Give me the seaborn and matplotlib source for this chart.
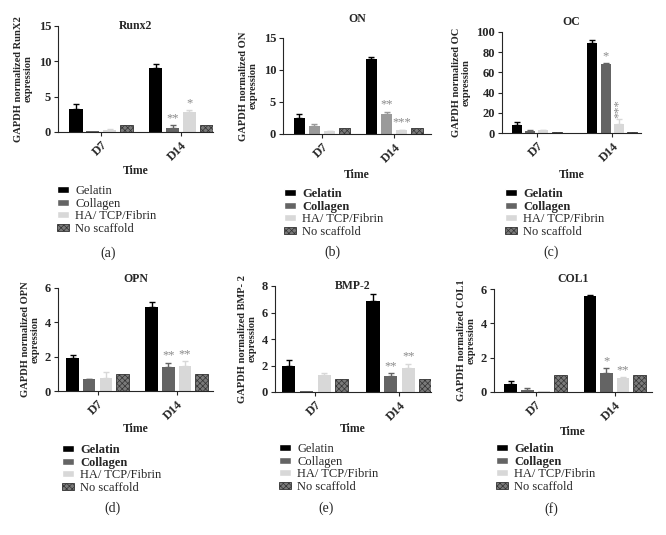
import matplotlib
matplotlib.use("Agg")
import matplotlib.pyplot as plt
from matplotlib.patches import Patch
import seaborn as sns
import pandas as pd

days = ["D7", "D14"]
groups = ["Gelatin", "Collagen", "HA/ TCP/Fibrin", "No scaffold"]

# values per group (Gelatin, Collagen, HA/TCP/Fibrin, No scaffold)
runx2_d7 = [3.2, 0.1, 0.3, 1.0]
runx2_d14 = [9.0, 0.6, 2.8, 1.0]
runx2_err_d7 = [0.8, 0.0, 0.1, 0.0]
runx2_err_d14 = [0.6, 0.4, 0.3, 0.0]
runx2_stars = ["", "**", "*", ""]

on_d7 = [2.5, 1.3, 0.4, 1.0]
on_d14 = [11.7, 3.2, 0.6, 1.0]
on_err_d7 = [0.7, 0.3, 0.1, 0.0]
on_err_d14 = [0.3, 0.3, 0.1, 0.0]
on_stars = ["", "**", "***", ""]

oc_d7 = [8.2, 2.0, 2.5, 1.0]
oc_d14 = [89.0, 68.0, 9.0, 1.0]
oc_err_d7 = [3.0, 1.0, 0.6, 0.0]
oc_err_d14 = [3.0, 1.0, 5.0, 0.0]
oc_stars = ["", "*", "***", ""]

opn_d7 = [1.9, 0.68, 0.78, 1.0]
opn_d14 = [4.92, 1.4, 1.45, 1.0]
opn_err_d7 = [0.2, 0.04, 0.35, 0.0]
opn_err_d14 = [0.25, 0.25, 0.28, 0.0]
opn_stars = ["", "**", "**", ""]

bmp2_d7 = [2.0, 0.05, 1.25, 1.0]
bmp2_d14 = [6.9, 1.2, 1.8, 1.0]
bmp2_err_d7 = [0.45, 0.0, 0.15, 0.0]
bmp2_err_d14 = [0.5, 0.2, 0.35, 0.0]
bmp2_stars = ["", "**", "**", ""]

col1_d7 = [0.45, 0.12, 0.05, 1.0]
col1_d14 = [5.62, 1.1, 0.8, 1.0]
col1_err_d7 = [0.2, 0.1, 0.0, 0.0]
col1_err_d14 = [0.05, 0.28, 0.05, 0.0]
col1_stars = ["", "*", "**", ""]

titles = ["Runx2", "ON", "OC", "OPN", "BMP-2", "COL1"]
ylabels = ["GAPDH normalized RunX2\nexpression", "GAPDH normalized ON\nexpression",
           "GAPDH normalized OC\nexpression", "GAPDH normalized OPN\nexpression",
           "GAPDH normalized BMP- 2\nexpression", "GAPDH normalized COL1\nexpression"]
yticks = [[0, 5, 10, 15], [0, 5, 10, 15], [0, 20, 40, 60, 80, 100],
          [0, 2, 4, 6], [0, 2, 4, 6, 8], [0, 2, 4, 6]]
captions = ["(a)", "(b)", "(c)", "(d)", "(e)", "(f)"]

means = [(runx2_d7, runx2_d14), (on_d7, on_d14), (oc_d7, oc_d14),
         (opn_d7, opn_d14), (bmp2_d7, bmp2_d14), (col1_d7, col1_d14)]
errs = [(runx2_err_d7, runx2_err_d14), (on_err_d7, on_err_d14), (oc_err_d7, oc_err_d14),
        (opn_err_d7, opn_err_d14), (bmp2_err_d7, bmp2_err_d14), (col1_err_d7, col1_err_d14)]
stars = [runx2_stars, on_stars, oc_stars, opn_stars, bmp2_stars, col1_stars]

# layout in pixels: axes box (left, right, top, bottom), xlim, title y, Time y,
# legend (x, y), caption (x, y), bold legend, bar width, gap
W, H = 666, 535
layout = [
    dict(box=(58, 213, 26, 132), xlim=(-0.54, 1.40), ty=26, timey=165, leg=(57, 185), cap=(108, 253), bold=False, width=0.84, gap=0.22),
    dict(box=(283, 431, 38, 134), xlim=(-0.54, 1.51), ty=19, timey=169, leg=(284, 188), cap=(332, 252), bold=True, width=0.84, gap=0.25),
    dict(box=(502, 641, 32, 133), xlim=(-0.46, 1.38), ty=22, timey=169, leg=(505, 188), cap=(551, 252), bold=True, width=0.7, gap=0.24),
    dict(box=(58, 213, 288, 391), xlim=(-0.50, 1.46), ty=279, timey=423, leg=(62, 444), cap=(112, 508), bold=True, width=0.84, gap=0.25),
    dict(box=(275, 431, 286, 392), xlim=(-0.48, 1.375), ty=286, timey=423, leg=(279, 443), cap=(326, 508), bold=False, width=0.84, gap=0.25),
    dict(box=(494, 652, 289, 392), xlim=(-0.525, 1.47), ty=279, timey=426, leg=(496, 443), cap=(551, 509), bold=True, width=0.84, gap=0.25),
]

sns.set_style("ticks")
plt.rcParams["font.family"] = ["Liberation Serif", "DejaVu Serif"]
plt.rcParams["hatch.linewidth"] = 0.5

fig = plt.figure(figsize=(W / 100, H / 100), dpi=100)

for i in range(6):
    lay = layout[i]
    left, right, top, bottom = lay["box"]
    ax = fig.add_axes([left / W, 1 - bottom / H, (right - left) / W, (bottom - top) / H])

    collagen_color = "#9a9a9a" if i == 1 else "#646464"
    colors = ["#000000", collagen_color, "#d8d8d8", "#7a7a7a"]

    rows = []
    for d, day in enumerate(days):
        for g, grp in enumerate(groups):
            rows.append({"Time": day, "Group": grp, "value": means[i][d][g], "err": errs[i][d][g]})
    df = pd.DataFrame(rows)

    sns.barplot(data=df, x="Time", y="value", hue="Group", order=days, hue_order=groups,
                palette=colors, errorbar=None, width=lay["width"], gap=lay["gap"],
                linewidth=0, legend=False, ax=ax)

    ymax = yticks[i][-1]
    bar_groups = list(ax.containers)
    for g, cont in enumerate(bar_groups):
        for d, bar in enumerate(cont.patches):
            x = bar.get_x() + bar.get_width() / 2
            h = bar.get_height()
            e = errs[i][d][g]
            if g == 3:
                bar.set_hatch("xxxxxx")
                bar.set_edgecolor("#333333")
                bar.set_linewidth(0.6)
            if e > 0:
                ax.errorbar(x, h, yerr=[[0], [e]], fmt="none", ecolor=colors[g],
                            elinewidth=1, capsize=2, capthick=1)
            if d == 1 and stars[i][g]:
                vertical = (i == 2 and g == 2)
                ax.text(x, h + e + ymax * 0.01, stars[i][g], ha="center", va="bottom",
                        color="#8a8a8a", fontsize=9,
                        rotation=90 if vertical else 0)

    ax.set_xlim(*lay["xlim"])
    ax.set_ylim(0, ymax)
    ax.set_yticks(yticks[i])
    ax.set_ylabel(ylabels[i], fontsize=7.6, fontweight="bold", linespacing=1.1)
    ax.set_xlabel("Time", fontsize=8.5, fontweight="bold")
    ax.xaxis.set_label_coords(0.5, -(lay["timey"] - bottom) / (bottom - top))
    ax.xaxis.label.set_va("top")
    ax.tick_params(axis="both", labelsize=9, length=3, width=0.8, pad=2)
    for lab in ax.get_yticklabels():
        lab.set_fontweight("bold")
    for lab in ax.get_xticklabels():
        lab.set_fontweight("bold")
        lab.set_rotation(45)
        lab.set_ha("right")
        lab.set_rotation_mode("anchor")
    sns.despine(ax=ax)
    for sp in ["left", "bottom"]:
        ax.spines[sp].set_linewidth(0.8)

    ax.text(0.5, 1 + (top - lay["ty"]) / (bottom - top), titles[i], transform=ax.transAxes,
            ha="center", va="center", fontsize=8.5, fontweight="bold")

    handles = [Patch(facecolor="#000000"), Patch(facecolor="#646464"),
               Patch(facecolor="#d8d8d8"),
               Patch(facecolor="#7a7a7a", edgecolor="#333333", hatch="xxxxxx", linewidth=0.6)]
    leg = fig.legend(handles, groups, loc="upper left",
                     bbox_to_anchor=(lay["leg"][0] / W, 1 - lay["leg"][1] / H),
                     frameon=False, fontsize=9, handlelength=0.95, handleheight=0.5,
                     handletextpad=0.5, labelspacing=0.05, borderpad=0, borderaxespad=0)
    if lay["bold"]:
        for t in leg.get_texts()[:2]:
            t.set_fontweight("bold")

    fig.text(lay["cap"][0] / W, 1 - lay["cap"][1] / H, captions[i], ha="center", va="center",
             fontsize=10)

fig.savefig("out.png", dpi=100)
